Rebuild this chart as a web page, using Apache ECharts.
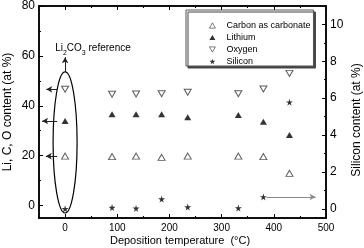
<!DOCTYPE html>
<html><head><meta charset="utf-8">
<script src="https://cdn.jsdelivr.net/npm/echarts@6/dist/echarts.min.js"></script>
<style>html,body{margin:0;padding:0;background:#fff}#c{width:364px;height:248px}</style>
</head><body><div id="c"></div>
<script>
const temps   = [0, 90, 136, 185, 235, 332, 380, 430];
const carbon  = [19.8, 19.6, 19.8, 19.3, 19.8, 19.8, 19.6, 12.9];
const lithium = [33.9, 36.6, 36.6, 36.6, 35.4, 36.3, 33.6, 28.3];
const oxygen  = [46.6, 44.6, 44.7, 44.8, 45.4, 44.8, 46.7, 53.0];
const silicon = [0, 0.07, 0.02, 0.53, 0.09, 0.04, 0.64, 5.78];

const xMajor = [0, 100, 200, 300, 400, 500];
const xMinor = [50, 150, 250, 350, 450];
const yLeftMajor = [0, 20, 40, 60, 80];
const yLeftMinor = [10, 30, 50, 70];
const yRightMajor = [0, 2, 4, 6, 8, 10];
const yRightMinor = [1, 3, 5, 7, 9];

const seriesNames = ['Carbon as carbonate', 'Lithium', 'Oxygen', 'Silicon'];

const STAR = 'path://M50,0 L61,35 L98,35 L68,57 L79,91 L50,70 L21,91 L32,57 L2,35 L39,35 Z';
const TRI_UP = 'path://M50,0 L100,87 L0,87 Z';
const TRI_DOWN = 'path://M0,0 L100,0 L50,87 Z';
const pairs = (ys) => temps.map((t, i) => [t, ys[i]]);

const axLine = {color: '#000', width: 1.5};
function xAx(pos, ticks, len, labels) {
  return {type: 'value', min: -50, max: 500, position: pos,
    axisLine: {show: true, onZero: false, lineStyle: axLine},
    axisTick: {show: true, inside: true, length: len, customValues: ticks, lineStyle: {color: '#000', width: 1}},
    axisLabel: labels ? {show: true, customValues: labels, fontSize: 10, color: '#000', margin: 5, fontFamily: 'Liberation Sans'} : {show: false},
    splitLine: {show: false}};
}
function yAx(pos, min, max, ticks, len, labels) {
  return {type: 'value', min, max, position: pos,
    axisLine: {show: true, onZero: false, lineStyle: axLine},
    axisTick: {show: true, inside: true, length: len, customValues: ticks, lineStyle: {color: '#000', width: 1}},
    axisLabel: labels ? {show: true, customValues: labels, fontSize: 12, color: '#000', margin: 4, fontFamily: 'Liberation Sans'} : {show: false},
    splitLine: {show: false}};
}
const arrowML = (data, color) => ({
  silent: true, animation: false, symbol: ['none', 'arrow'], symbolSize: [5, 6],
  label: {show: false}, lineStyle: {color, width: 1, type: 'solid'},
  emphasis: {disabled: true}, data
});

const chart = echarts.init(document.getElementById('c'), null, {renderer: 'canvas'});
const option = {
  animation: false,
  backgroundColor: '#fff',
  grid: {left: 39, right: 38, top: 6, bottom: 30},
  xAxis: [xAx('bottom', xMajor, 4, xMajor), xAx('bottom', xMinor, 2, null), xAx('top', xMajor, 4, null), xAx('top', xMinor, 2, null)],
  yAxis: [yAx('left', -5, 80, yLeftMajor, 4, yLeftMajor), yAx('left', -5, 80, yLeftMinor, 2, null),
          yAx('right', -0.5, 11, yRightMajor, 4, yRightMajor), yAx('right', -0.5, 11, yRightMinor, 2, null)],
  legend: {
    orient: 'vertical', left: 186, top: 10,
    padding: [11, 3, 0, 23], itemGap: 3, itemWidth: 6, itemHeight: 6,
    backgroundColor: '#fff', borderColor: '#555', borderWidth: 1,
    shadowColor: '#444', shadowOffsetX: 2, shadowOffsetY: 2, shadowBlur: 0,
    textStyle: {fontSize: 9, color: '#000', fontFamily: 'Liberation Sans', padding: [0, 0, 0, 6]},
    data: seriesNames.map((n, i) => ({name: n, itemStyle: i === 0 || i === 2 ? {borderWidth: 0.8} : {}}))
  },
  series: [
    {name: seriesNames[0], type: 'scatter', data: pairs(carbon), symbol: TRI_UP, symbolSize: [7, 6],
     itemStyle: {color: '#fff', borderColor: '#333', borderWidth: 1},
     markLine: arrowML([[{coord: [-15, carbon[0]]}, {coord: [-37, carbon[0]]}]], '#222')},
    {name: seriesNames[1], type: 'scatter', data: pairs(lithium), symbol: TRI_UP, symbolSize: [7, 6],
     itemStyle: {color: '#000'},
     markLine: arrowML([[{coord: [-15, lithium[0]]}, {coord: [-44, lithium[0]]}]], '#222')},
    {name: seriesNames[2], type: 'scatter', data: pairs(oxygen), symbol: TRI_DOWN, symbolSize: [7, 6],
     itemStyle: {color: '#fff', borderColor: '#333', borderWidth: 1},
     markLine: arrowML([[{coord: [-15, oxygen[0]]}, {coord: [-36, oxygen[0]]}],
                        [{coord: [0, 53.6]}, {coord: [0, 59.5]}]], '#222')},
    {name: seriesNames[3], type: 'scatter', yAxisIndex: 2, data: pairs(silicon), symbol: STAR, symbolSize: 7,
     itemStyle: {color: '#000'},
     markLine: arrowML([[{coord: [386, silicon[6]]}, {coord: [480, silicon[6]]}]], '#888')}
  ]
};
chart.setOption(option);

const ctr = chart.convertToPixel({xAxisIndex: 0, yAxisIndex: 0}, [0, 25.3]);
const topPt = chart.convertToPixel({xAxisIndex: 0, yAxisIndex: 0}, [0, 53.6]);
const sidePt = chart.convertToPixel({xAxisIndex: 0, yAxisIndex: 0}, [23, 25.3]);
const refPt = chart.convertToPixel({xAxisIndex: 0, yAxisIndex: 0}, [-19, 63.5]);
chart.setOption({
  graphic: [
    {type: 'ellipse', shape: {cx: ctr[0], cy: ctr[1], rx: sidePt[0] - ctr[0], ry: ctr[1] - topPt[1]},
     style: {fill: null, stroke: '#000', lineWidth: 1.2}, silent: true},
    {type: 'text', left: refPt[0], top: refPt[1] - 4,
     style: {text: '{n|Li}{s|2}{n|CO}{s|3}{n| reference}', rich: {
       n: {fontSize: 10, fontFamily: 'Liberation Sans', fill: '#000', verticalAlign: 'bottom'},
       s: {fontSize: 7, fontFamily: 'Liberation Sans', fill: '#000', verticalAlign: 'bottom', padding: [0, 0, -3, 0]}}}},
    {type: 'text', x: 8, y: 112, rotation: Math.PI / 2,
     style: {text: 'Li, C, O content (at %)', fontSize: 12, fontFamily: 'Liberation Sans', fill: '#000', align: 'center', verticalAlign: 'middle'}},
    {type: 'text', x: 357, y: 120, rotation: Math.PI / 2,
     style: {text: 'Silicon content (at %)', fontSize: 12, fontFamily: 'Liberation Sans', fill: '#000', align: 'center', verticalAlign: 'middle'}},
    {type: 'text', x: 180, y: 241,
     style: {text: 'Deposition temperature  (°C)', fontSize: 11, fontFamily: 'Liberation Sans', fill: '#000', align: 'center', verticalAlign: 'middle'}}
  ]
});
</script></body></html>
